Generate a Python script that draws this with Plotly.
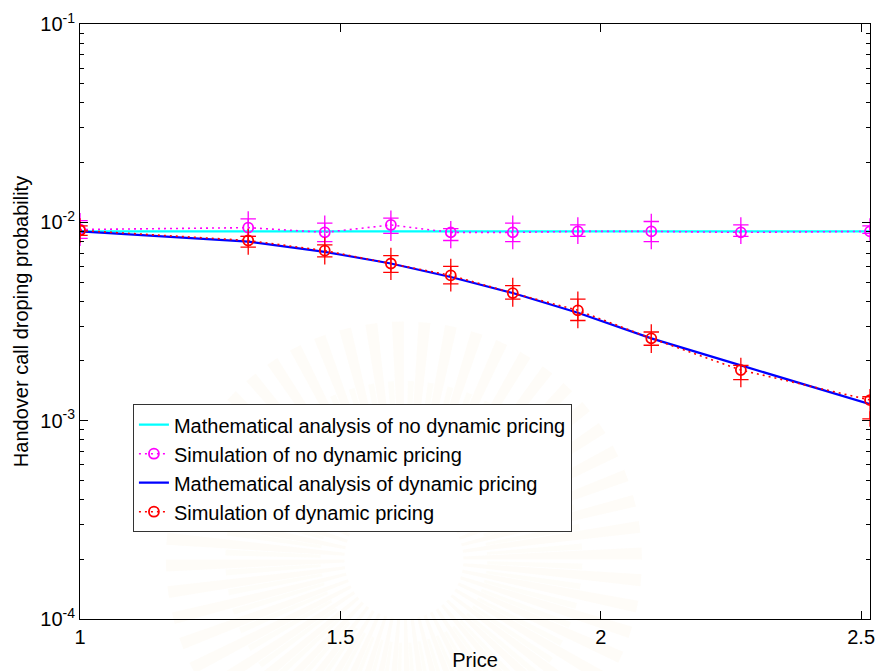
import math
import plotly.graph_objects as go

# Price points at which the handover drop probability was evaluated
price = [1.0, 1.323, 1.47, 1.597, 1.712, 1.831, 1.956, 2.097, 2.269, 2.517]

# Mathematical analysis, no dynamic pricing
math_no_dp = [0.0090, 0.0090, 0.0090, 0.0090, 0.0090, 0.0090, 0.0090, 0.0090, 0.0090, 0.0090]
# Simulation, no dynamic pricing (mean and confidence bounds)
sim_no_dp = [0.0092, 0.0094, 0.0089, 0.0097, 0.0089, 0.0089, 0.0090, 0.0090, 0.0089, 0.0090]
sim_no_dp_lo = [0.0083, 0.0085, 0.0080, 0.0088, 0.0081, 0.0080, 0.0085, 0.0080, 0.0085, 0.0088]
sim_no_dp_hi = [0.0102, 0.0104, 0.0099, 0.0105, 0.0093, 0.0099, 0.0097, 0.0101, 0.0097, 0.0096]

# Mathematical analysis, dynamic pricing
math_dp = [0.0090, 0.0080, 0.0071, 0.0062, 0.0053, 0.0044, 0.0035, 0.0026, 0.0019, 0.00121]
# Simulation, dynamic pricing (mean and confidence bounds)
sim_dp = [0.0091, 0.0081, 0.0072, 0.0062, 0.0054, 0.0044, 0.0036, 0.0026, 0.0018, 0.00127]
sim_dp_lo = [0.0086, 0.0075, 0.0067, 0.0056, 0.0049, 0.0041, 0.0032, 0.0024, 0.00161, 0.00102]
sim_dp_hi = [0.0096, 0.0085, 0.0077, 0.0068, 0.0060, 0.0048, 0.0041, 0.0028, 0.0019, 0.00132]

# axis tick labels
x_ticks = [1, 1.5, 2, 2.5]
x_tick_text = ["1", "1.5", "2", "2.5"]
y_ticks = [1e-4, 1e-3, 1e-2, 1e-1]
y_tick_text = ["10<sup>-4</sup>", "10<sup>-3</sup>", "10<sup>-2</sup>", "10<sup>-1</sup>"]

FONT = "Arial, Liberation Sans, Helvetica, sans-serif"
FS = 20

fig = go.Figure()


def bound_traces(y, lo, hi, color):
    # vertical confidence segment plus "+" ticks at both ends
    fig.add_trace(go.Scatter(
        x=price, y=y, mode="none", showlegend=False, hoverinfo="skip",
        error_y=dict(type="data", symmetric=False,
                     array=[h - v for h, v in zip(hi, y)],
                     arrayminus=[v - l for v, l in zip(y, lo)],
                     color=color, thickness=1.2, width=0),
    ))
    fig.add_trace(go.Scatter(
        x=price + price, y=lo + hi, mode="markers", showlegend=False,
        hoverinfo="skip",
        marker=dict(symbol="cross-thin", size=11, line=dict(color=color, width=1.3)),
    ))


# faint emblem-like sunburst in the background (two soft layers)
cx, cy = 0.41, 0.10
sx = 790 / 595
for r0, r1, alpha, n_rays, frac in ((0.10, 0.40, 0.06, 56, 0.45), (0.14, 0.30, 0.05, 56, 0.30)):
    for k in range(n_rays):
        a0 = 2 * math.pi * (k + 0.5 * (r1 < 0.35)) / n_rays
        a1 = a0 + 2 * math.pi / n_rays * frac
        pts = [
            (cx + r0 * math.cos(a0) / sx, cy + r0 * math.sin(a0)),
            (cx + r1 * math.cos(a0) / sx, cy + r1 * math.sin(a0)),
            (cx + r1 * math.cos(a1) / sx, cy + r1 * math.sin(a1)),
            (cx + r0 * math.cos(a1) / sx, cy + r0 * math.sin(a1)),
        ]
        path = "M " + " L ".join(f"{px:.4f},{py:.4f}" for px, py in pts) + " Z"
        fig.add_shape(type="path", path=path, xref="paper", yref="paper",
                      fillcolor=f"rgba(244,212,130,{alpha})", line=dict(width=0),
                      layer="below")

fig.add_trace(go.Scatter(
    x=price, y=math_no_dp, mode="lines",
    name="Mathematical analysis of no dynamic pricing",
    line=dict(color="#00FFFF", width=2.2),
))
bound_traces(sim_no_dp, sim_no_dp_lo, sim_no_dp_hi, "#FF00FF")
fig.add_trace(go.Scatter(
    x=price, y=sim_no_dp, mode="lines+markers",
    name="Simulation of no dynamic pricing",
    line=dict(color="#FF00FF", width=1.6, dash="2px,4px"),
    marker=dict(symbol="circle-open", size=10, color="#FF00FF", line=dict(width=1.8)),
))
fig.add_trace(go.Scatter(
    x=price, y=math_dp, mode="lines",
    name="Mathematical analysis of dynamic pricing",
    line=dict(color="#0000FF", width=2.2),
))
bound_traces(sim_dp, sim_dp_lo, sim_dp_hi, "#FF0000")
fig.add_trace(go.Scatter(
    x=price, y=sim_dp, mode="lines+markers",
    name="Simulation of dynamic pricing",
    line=dict(color="#FF0000", width=1.6, dash="2px,4px"),
    marker=dict(symbol="circle-open", size=10, color="#FF0000", line=dict(width=1.8)),
))

minor_vals = [m * 10 ** e for e in (-4, -3, -2) for m in range(2, 10)]

fig.update_layout(
    width=879, height=671,
    margin=dict(l=80, r=9, t=24, b=52),
    paper_bgcolor="white", plot_bgcolor="white",
    font=dict(family=FONT, size=FS, color="black"),
    showlegend=True,
    legend=dict(
        x=0.067, y=0.361, xanchor="left", yanchor="top",
        bgcolor="white", bordercolor="#333333", borderwidth=1,
        font=dict(family=FONT, size=FS, color="black"),
        tracegroupgap=0,
    ),
    xaxis=dict(
        range=[1, 2.517], tickvals=x_ticks, ticktext=x_tick_text,
        ticks="inside", ticklen=8, tickcolor="black", showline=True, linecolor="black",
        linewidth=1, mirror="allticks", showgrid=False, zeroline=False,
        automargin=False,
        title=dict(text="Price", standoff=8, font=dict(size=FS)),
        tickfont=dict(size=FS),
    ),
    yaxis=dict(
        type="log", range=[-4, -1], tickvals=y_ticks, ticktext=y_tick_text,
        ticks="inside", ticklen=8, tickcolor="black", showline=True, linecolor="black",
        linewidth=1, mirror="allticks", showgrid=False, zeroline=False,
        automargin=False,
        minor=dict(tickvals=minor_vals, ticks="inside", ticklen=4, tickcolor="black",
                   showgrid=False),
        title=dict(text="Handover call droping probability", standoff=6, font=dict(size=FS)),
        tickfont=dict(size=FS),
    ),
)

fig.write_html("out.html")
